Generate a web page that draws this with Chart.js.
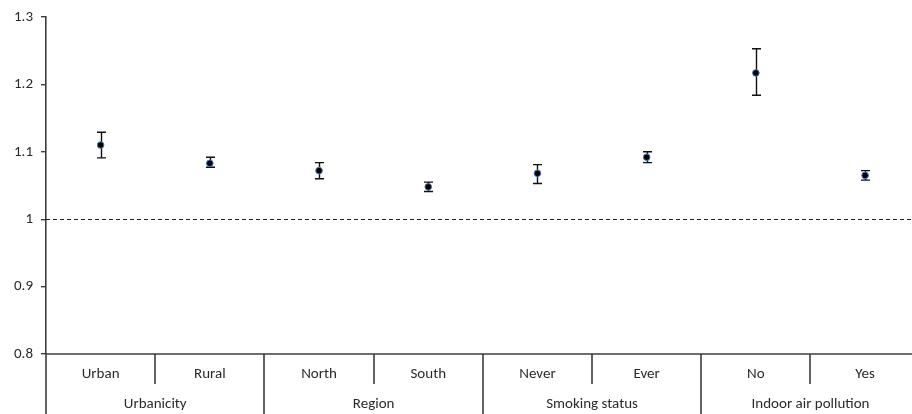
<!DOCTYPE html>
<html>
<head>
<meta charset="utf-8">
<script src="https://cdn.jsdelivr.net/npm/chart.js@4.4.1/dist/chart.umd.min.js"></script>
<style>
  html, body { margin: 0; padding: 0; background: #fff; overflow: hidden; }
  #wrap { position: relative; width: 924px; height: 414px; }
</style>
</head>
<body>
<div id="wrap"><canvas id="chart"></canvas></div>
<script>
// Subgroup categories and the grouping they belong to
const categories = ['Urban', 'Rural', 'North', 'South', 'Never', 'Ever', 'No', 'Yes'];
const groups = ['Urbanicity', 'Region', 'Smoking status', 'Indoor air pollution'];
const groupSizes = [2, 2, 2, 2];

// Point estimates with lower / upper confidence limits
const estimates = [1.110, 1.083, 1.072, 1.048, 1.068, 1.092, 1.217, 1.065];
const lower     = [1.091, 1.077, 1.060, 1.041, 1.053, 1.084, 1.184, 1.058];
const upper     = [1.129, 1.092, 1.084, 1.055, 1.081, 1.100, 1.253, 1.072];

// Value axis range and reference line
const yMin = 0.8;
const yMax = 1.3;
const yStep = 0.1;
const referenceValue = 1;

const FONT = 'Carlito, Lato, "Open Sans", sans-serif';
const TEXT = '#2a2a2a';
const AXIS = '#3c3c3c';

// Error bars, drawn underneath the markers
const errorBars = {
  id: 'errorBars',
  beforeDatasetsDraw(chart) {
    const { ctx, scales: { x, y } } = chart;
    ctx.save();
    ctx.strokeStyle = '#111';
    ctx.lineWidth = 1.4;
    const cap = 4.5;
    categories.forEach((c, i) => {
      const px = Math.round(x.getPixelForValue(i)) + 0.5;
      const yt = y.getPixelForValue(upper[i]);
      const yb = y.getPixelForValue(lower[i]);
      ctx.beginPath();
      ctx.moveTo(px, yt); ctx.lineTo(px, yb);
      ctx.moveTo(px - cap, yt); ctx.lineTo(px + cap, yt);
      ctx.moveTo(px - cap, yb); ctx.lineTo(px + cap, yb);
      ctx.stroke();
    });
    ctx.restore();
  }
};

// Dashed reference line at the null value
const referenceLine = {
  id: 'referenceLine',
  beforeDatasetsDraw(chart) {
    const { ctx, chartArea, scales: { y } } = chart;
    const py = Math.round(y.getPixelForValue(referenceValue)) + 0.5;
    ctx.save();
    ctx.strokeStyle = '#222';
    ctx.lineWidth = 1;
    ctx.setLineDash([4, 3]);
    ctx.beginPath();
    ctx.moveTo(chartArea.left, py);
    ctx.lineTo(chartArea.right, py);
    ctx.stroke();
    ctx.restore();
  }
};

// Two-level category axis: subgroup labels, group labels and dividers
const groupedAxis = {
  id: 'groupedAxis',
  afterDraw(chart) {
    const { ctx, chartArea, scales: { x } } = chart;
    const bottom = chart.height;
    const base = chartArea.bottom;
    const half = (x.getPixelForValue(1) - x.getPixelForValue(0)) / 2;
    ctx.save();
    ctx.strokeStyle = AXIS;
    ctx.lineWidth = 1.6;
    // axis line
    ctx.beginPath();
    ctx.moveTo(chartArea.left, base);
    ctx.lineTo(chartArea.right, base);
    ctx.stroke();
    // value axis continues through the label rows
    ctx.beginPath();
    ctx.moveTo(chartArea.left, base);
    ctx.lineTo(chartArea.left, bottom);
    ctx.stroke();

    ctx.fillStyle = TEXT;
    ctx.font = '15px ' + FONT;
    ctx.textAlign = 'center';
    ctx.textBaseline = 'middle';
    categories.forEach((c, i) => {
      ctx.fillText(c, x.getPixelForValue(i), base + 20.5);
    });

    let start = 0;
    groups.forEach((g, gi) => {
      const end = start + groupSizes[gi] - 1;
      const left = x.getPixelForValue(start) - half;
      const right = x.getPixelForValue(end) + half;
      ctx.fillText(g, (left + right) / 2, base + 50.5);
      // short dividers between subgroups
      for (let k = start; k < end; k++) {
        const dx = Math.round(x.getPixelForValue(k) + half);
        ctx.beginPath();
        ctx.moveTo(dx, base);
        ctx.lineTo(dx, base + 30);
        ctx.stroke();
      }
      // full-height divider after each group
      if (gi < groups.length - 1) {
        const dx = Math.round(right);
        ctx.beginPath();
        ctx.moveTo(dx, base);
        ctx.lineTo(dx, bottom);
        ctx.stroke();
      }
      start = end + 1;
    });
    ctx.restore();
  }
};

new Chart(document.getElementById('chart'), {
  type: 'line',
  data: {
    labels: categories,
    datasets: [{
      data: estimates,
      showLine: false,
      pointRadius: 3.3,
      pointBackgroundColor: '#000',
      pointBorderColor: '#4a78b8',
      pointBorderWidth: 1,
      pointHoverRadius: 3.3
    }]
  },
  options: {
    responsive: true,
    maintainAspectRatio: false,
    animation: false,
    layout: { padding: { top: 14, right: 1, bottom: 60, left: 0 } },
    plugins: {
      legend: { display: false },
      tooltip: { enabled: false }
    },
    scales: {
      x: {
        type: 'category',
        offset: true,
        display: false
      },
      y: {
        min: yMin,
        max: yMax,
        afterFit(scale) { scale.width = 46; },
        ticks: {
          stepSize: yStep,
          color: TEXT,
          padding: 8,
          font: { family: FONT, size: 15 },
          callback: v => String(Number(v.toFixed(1)))
        },
        grid: {
          drawOnChartArea: false,
          drawTicks: true,
          tickLength: 5,
          color: AXIS,
          lineWidth: 1.4
        },
        border: { display: true, color: AXIS, width: 1.6 }
      }
    }
  },
  plugins: [referenceLine, errorBars, groupedAxis]
});
</script>
</body>
</html>
